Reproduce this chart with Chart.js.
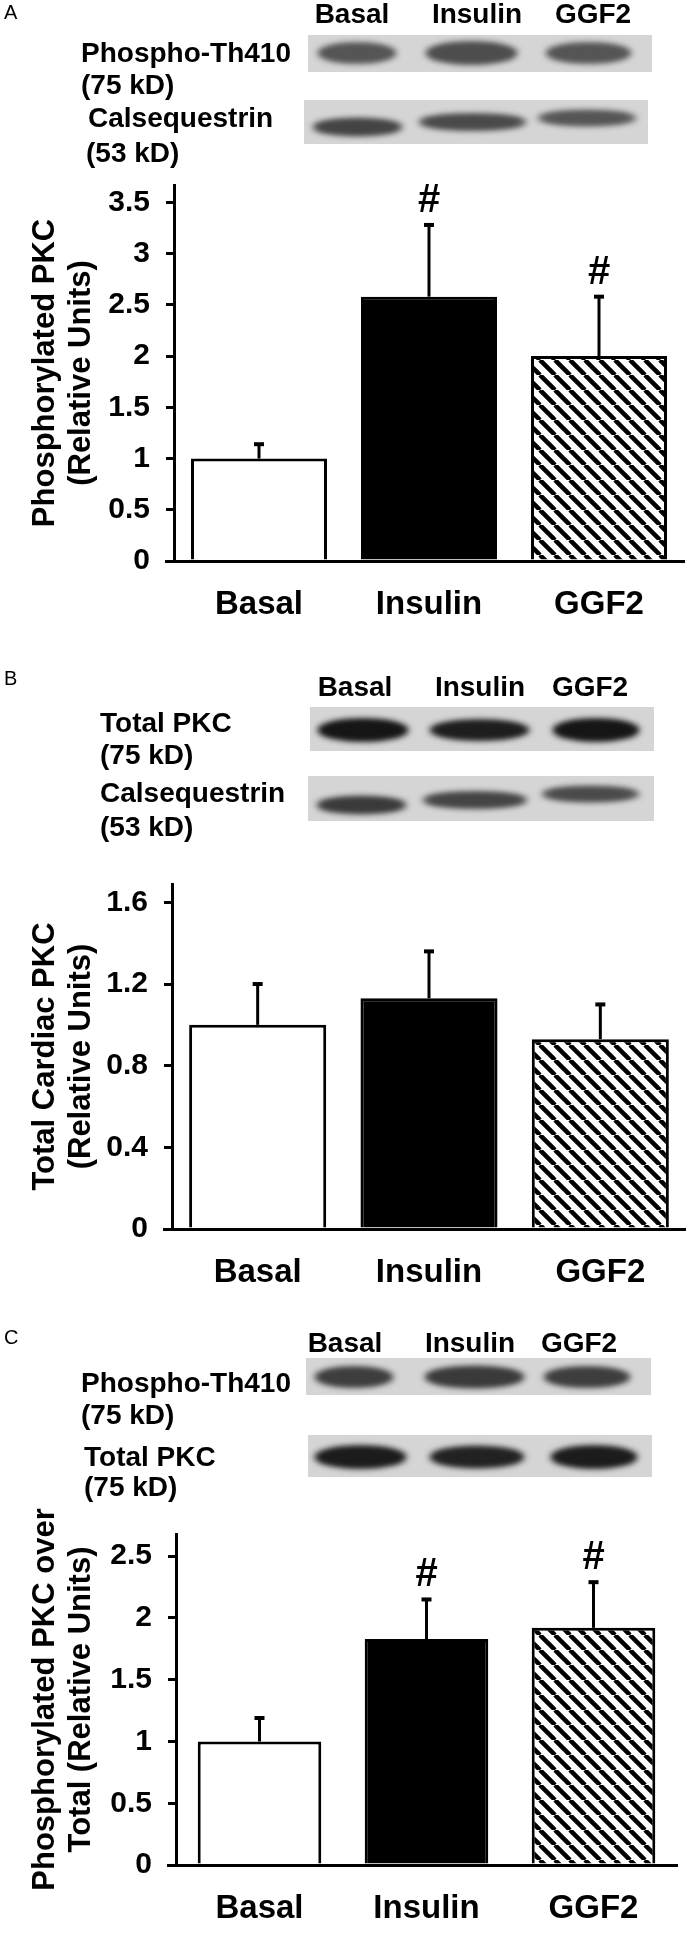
<!DOCTYPE html>
<html><head><meta charset="utf-8">
<script src="https://cdn.jsdelivr.net/npm/chart.js@4.4.1/dist/chart.umd.min.js"></script>
<style>
html,body{margin:0;padding:0;background:#fff;}
body{position:relative;width:686px;height:1942px;overflow:hidden;font-family:'Liberation Sans',Arial,sans-serif;}
.t{position:absolute;font-weight:bold;font-size:28px;line-height:30px;white-space:nowrap;transform:translateY(-50%);color:#000;}
.h{transform:translate(-50%,-50%);}
.p{position:absolute;font-size:20px;transform:translateY(-50%);}
canvas{position:absolute;left:0;}
</style></head><body>
<canvas id="blots" width="686" height="1942" style="top:0"></canvas>
<div class="p" style="left:4px;top:12px">A</div>
<div class="p" style="left:4px;top:678px">B</div>
<div class="p" style="left:4px;top:1337px">C</div>
<div id="texts"></div>
<canvas id="cA" width="686" height="480" style="top:150px"></canvas>
<canvas id="cB" width="686" height="450" style="top:850px"></canvas>
<canvas id="cC" width="686" height="442" style="top:1500px"></canvas>
<script>
// ---- data ----
const categories = ['Basal', 'Insulin', 'GGF2'];
const valuesA = [1.0, 2.58, 2.0];
const errorsA = [0.14, 0.70, 0.58];
const signifA = ['', '#', '#'];
const ticksA = [0, 0.5, 1, 1.5, 2, 2.5, 3, 3.5];
const valuesB = [1.0, 1.13, 0.93];
const errorsB = [0.20, 0.23, 0.17];
const signifB = ['', '', ''];
const ticksB = [0, 0.4, 0.8, 1.2, 1.6];
const valuesC = [1.0, 1.83, 1.92];
const errorsC = [0.19, 0.32, 0.37];
const signifC = ['', '#', '#'];
const ticksC = [0, 0.5, 1, 1.5, 2, 2.5];
const titleA = ['Phosphorylated PKC', '(Relative Units)'];
const titleB = ['Total Cardiac PKC', '(Relative Units)'];
const titleC = ['Phosphorylated PKC over', 'Total (Relative Units)'];

// ---- text labels ----
const texts = [
 ['Phospho-Th410',81,53,''],['(75 kD)',81,85,''],['Calsequestrin',88,118,''],['(53 kD)',86,153,''],
 ['Basal',352,14,'h'],['Insulin',477,14,'h'],['GGF2',593,14,'h'],
 ['Total PKC',100,723,''],['(75 kD)',100,755,''],['Calsequestrin',100,793,''],['(53 kD)',100,827,''],
 ['Basal',355,687,'h'],['Insulin',480,687,'h'],['GGF2',590,687,'h'],
 ['Phospho-Th410',81,1383,''],['(75 kD)',81,1415,''],['Total PKC',84,1457,''],['(75 kD)',84,1487,''],
 ['Basal',345,1343,'h'],['Insulin',470,1343,'h'],['GGF2',579,1343,'h']
];
const tc = document.getElementById('texts');
texts.forEach(([s,x,y,c])=>{const d=document.createElement('div');d.className='t '+c;d.textContent=s;d.style.left=x+'px';d.style.top=y+'px';tc.appendChild(d);});

// ---- blots ----
const bc = document.getElementById('blots').getContext('2d');
function strip(x0,x1,y0,y1,bands){
  bc.filter='none';bc.fillStyle='#d5d5d5';bc.fillRect(x0,y0,x1-x0,y1-y0);
  bands.forEach(([a,b,cy,h,col])=>{
    bc.filter='blur(3px)';bc.fillStyle=col;
    bc.beginPath();bc.ellipse((a+b)/2,cy,(b-a)/2,h/2,0,0,Math.PI*2);bc.fill();
    bc.beginPath();bc.ellipse((a+b)/2,cy,(b-a)/2-6,h/2-2,0,0,Math.PI*2);bc.fill();
  });
  bc.filter='none';
}
strip(308,652,35,72,[[317,397,53,20,'#555'],[425,518,53,22,'#4d4d4d'],[545,632,53,20,'#555']]);
strip(304,648,100,144,[[312,403,127,17,'#444'],[418,527,122,16,'#4a4a4a'],[537,637,118,15,'#555']]);
strip(310,654,707,751,[[317,409,730,22,'#161616'],[429,530,730,20,'#1e1e1e'],[552,640,730,22,'#161616']]);
strip(308,654,776,821,[[316,407,805,17,'#3a3a3a'],[422,528,800,16,'#444'],[541,640,794,15,'#4a4a4a']]);
strip(306,651,1358,1395,[[314,394,1377,20,'#3e3e3e'],[424,525,1377,21,'#3a3a3a'],[543,631,1377,20,'#3e3e3e']]);
strip(308,652,1435,1477,[[314,407,1457,22,'#1c1c1c'],[429,525,1457,21,'#222'],[550,638,1457,22,'#1c1c1c']]);

// ---- hatch pattern ----
function hatch(){
  const c=document.createElement('canvas');c.width=15;c.height=15;const x=c.getContext('2d');
  x.fillStyle='#fff';x.fillRect(0,0,15,15);x.strokeStyle='#000';x.lineWidth=4.5;
  [[-15,0],[0,0],[15,0]].forEach(([dx])=>{x.beginPath();x.moveTo(dx,0);x.lineTo(dx+15,15);x.stroke();});
  return bc.createPattern(c,'repeat');
}
const hatchPat = hatch();

const extras = {
  id:'extras',
  afterDatasetsDraw(chart){
    const o=chart.options.plugins.extras, ctx=chart.ctx, xs=chart.scales.x, ys=chart.scales.y;
    ctx.save();ctx.strokeStyle='#000';ctx.lineWidth=3;ctx.fillStyle='#000';
    const ca=chart.chartArea;
    ctx.beginPath();ctx.moveTo(ca.left-9,ca.bottom+0.5);ctx.lineTo(ca.left,ca.bottom+0.5);ctx.stroke();
    o.values.forEach((v,i)=>{
      const x=xs.getPixelForValue(i), y0=ys.getPixelForValue(v), y1=ys.getPixelForValue(v+o.errors[i]);
      ctx.beginPath();ctx.moveTo(x,y0);ctx.lineTo(x,y1);ctx.stroke();
      ctx.lineWidth=4;ctx.beginPath();ctx.moveTo(x-5,y1);ctx.lineTo(x+5,y1);ctx.stroke();ctx.lineWidth=3;
      if(o.signif[i]){ctx.font='bold 40px "Liberation Sans",Arial';ctx.textAlign='center';ctx.textBaseline='middle';ctx.fillText(o.signif[i],x,y1-24);}
    });
    const cy=(ca.top+ca.bottom)/2;
    ctx.font='bold 31px "Liberation Sans",Arial';ctx.textAlign='center';ctx.textBaseline='middle';
    o.title.forEach((s,k)=>{ctx.save();ctx.translate(o.titleX[k],cy);ctx.rotate(-Math.PI/2);ctx.fillText(s,0,0);ctx.restore();});
    ctx.restore();
  }
};

function make(id,values,errors,signif,ticks,max,title,axisX,right,padTop,xh,barPct){
  new Chart(document.getElementById(id),{
    type:'bar',
    data:{labels:categories,datasets:[{data:values,backgroundColor:['#fff','#000',hatchPat],borderColor:'#000',borderWidth:3,borderSkipped:'bottom',barPercentage:barPct,categoryPercentage:1}]},
    options:{responsive:false,animation:false,devicePixelRatio:1,
      layout:{padding:{top:padTop,right:right,left:0,bottom:0}},
      plugins:{legend:{display:false},tooltip:{enabled:false},
        extras:{values,errors,signif,title,titleX:[45,81]}},
      scales:{
        x:{grid:{display:false},border:{display:true,color:'#000',width:3},
           ticks:{color:'#000',font:{family:'Liberation Sans',weight:'bold',size:33},padding:16,maxRotation:0},
           afterFit(s){s.height=xh;}},
        y:{min:0,max:max,grid:{display:true,drawOnChartArea:false,drawTicks:true,tickLength:8,color:'#000',lineWidth:3},
           border:{display:true,color:'#000',width:3},
           ticks:{color:'#000',font:{family:'Liberation Sans',weight:'bold',size:30},padding:16,callback:v=>String(v)},
           afterBuildTicks(s){s.ticks=ticks.map(v=>({value:v}));},
           afterFit(s){s.width=axisX;}}
      }},
    plugins:[extras]
  });
}
make('cA',valuesA,errorsA,signifA,ticksA,3.67,titleA,174,2,35,69,0.8);
make('cB',valuesB,errorsB,signifB,ticksB,1.69,titleB,172,0,30,71,0.8);
make('cC',valuesC,errorsC,signifC,ticksC,2.68,titleC,176,9,30,77,0.74);
</script></body></html>
